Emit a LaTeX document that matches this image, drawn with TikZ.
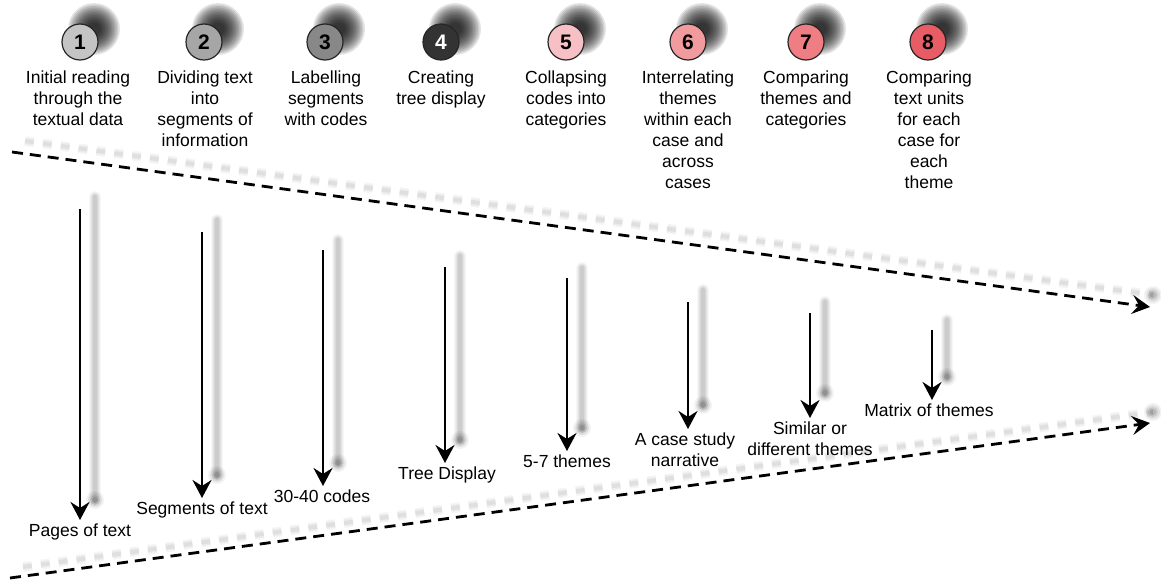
\documentclass[tikz,border=0pt]{standalone}
\usepackage{fontspec}
\setmainfont{Liberation Sans}
\usetikzlibrary{arrows.meta}

\definecolor{c1}{HTML}{C4C4C4}
\definecolor{c2}{HTML}{A6A6A6}
\definecolor{c3}{HTML}{888888}
\definecolor{c4}{HTML}{333333}
\definecolor{c5}{HTML}{F6C0C4}
\definecolor{c6}{HTML}{F29B9F}
\definecolor{c7}{HTML}{EE7E83}
\definecolor{c8}{HTML}{E85C66}

\tikzset{
  num/.style={circle, draw=black!85, line width=1.2pt, minimum size=36pt, inner sep=0pt,
    font=\fontsize{21}{21}\selectfont\bfseries},
  lab/.style={anchor=north, inner sep=0pt, align=center, font=\fontsize{17.5}{21}\selectfont},
  varrow/.style={line width=2.5pt, -{Stealth[length=18pt,width=19pt,inset=6pt]}, shorten >=4pt},
  funnel/.style={line width=2.8pt, dash pattern=on 11pt off 7pt, -{Stealth[length=18pt,width=19pt,inset=7pt]}},
}

\newcommand\mysoftline[2]{%
  \foreach \w/\o in {12/0.03,10/0.04,8/0.04,6/0.05,4/0.05}{\draw[line width=\w pt, black, opacity=\o, line cap=round] #1 -- #2;}%
  \foreach \r/\o in {9/0.05,7/0.07,5/0.09,3/0.1}{\fill[black, opacity=\o] #2 circle (\r pt);}}
\newcommand\mysoftdash[2]{%
  \foreach \w/\o in {10/0.035,7/0.04,4/0.05}{\draw[line width=\w pt, black, opacity=\o, dash pattern=on 9pt off 9pt] #1 -- #2;}%
  \foreach \r/\o in {9/0.05,7/0.07,5/0.09,3/0.1}{\fill[black, opacity=\o] #2 circle (\r pt);}}
\newcommand\myblob[1]{%
  \foreach \r in {26,24.5,...,6}{\fill[black, opacity=0.1] #1 circle (\r pt);}}

\begin{document}
\begin{tikzpicture}[x=1pt, y=-1pt]
\useasboundingbox[fill=white] (0,0) rectangle (1161,581);

% circle shadows
\foreach \x in {80,204,325,441,566,688,806,928}{\myblob{(\x+14,29)}}

% step circles
\node[num, fill=c1] (n1) at (80,42) {1};
\node[num, fill=c2] (n2) at (204,42) {2};
\node[num, fill=c3] (n3) at (325,42) {3};
\node[num, fill=c4, text=white] (n4) at (441,42) {4};
\node[num, fill=c5] (n5) at (566,42) {5};
\node[num, fill=c6] (n6) at (688,42) {6};
\node[num, fill=c7] (n7) at (806,42) {7};
\node[num, fill=c8] (n8) at (928,42) {8};

% step descriptions
\node[lab] (d1) at (78,71) {Initial reading\\through the\\textual data};
\node[lab] (d2) at (205,71) {Dividing text\\into\\segments of\\information};
\node[lab] (d3) at (326,71) {Labelling\\segments\\with codes};
\node[lab] (d4) at (441,71) {Creating\\tree display};
\node[lab] (d5) at (566,71) {Collapsing\\codes into\\categories};
\node[lab] (d6) at (688,71) {Interrelating\\themes\\within each\\case and\\across\\cases};
\node[lab] (d7) at (806,71) {Comparing\\themes and\\categories};
\node[lab] (d8) at (929,71) {Comparing\\text units\\for each\\case for\\each\\theme};

% funnel lines
\coordinate (fa) at (12,152);
\coordinate (fb) at (1150,307);
\coordinate (fc) at (10,578);
\coordinate (fd) at (1150,423);
\mysoftdash{(25,141)}{(1153,295)}
\mysoftdash{(23,567)}{(1153,412)}
\draw[funnel] (fa) -- (fb);
\draw[funnel] (fc) -- (fd);

% result labels
\node[lab] (r1) at (80,524) {Pages of text};
\node[lab] (r2) at (202,502) {Segments of text};
\node[lab] (r3) at (322,490) {30-40 codes};
\node[lab] (r4) at (447,467) {Tree Display};
\node[lab] (r5) at (567,455) {5-7 themes};
\node[lab] (r6) at (685,433) {A case study\\narrative};
\node[lab] (r7) at (810,422) {Similar or\\different themes};
\node[lab] (r8) at (929,404) {Matrix of themes};

% arrow tops
\coordinate (t1) at (80,209);
\coordinate (t2) at (202,232);
\coordinate (t3) at (323,250);
\coordinate (t4) at (445,267);
\coordinate (t5) at (567,278);
\coordinate (t6) at (688,302);
\coordinate (t7) at (810,313);
\coordinate (t8) at (932,330);

% arrow shadows
\mysoftline{(95,197)}{(95,500)}
\mysoftline{(217,220)}{(217,475)}
\mysoftline{(338,240)}{(338,463)}
\mysoftline{(460,256)}{(460,440)}
\mysoftline{(582,268)}{(582,428)}
\mysoftline{(703,290)}{(703,405)}
\mysoftline{(825,302)}{(825,393)}
\mysoftline{(947,320)}{(947,377)}

% arrows
\foreach \i in {1,...,8}{\draw[varrow] (t\i) -- (t\i |- r\i.north);}
\end{tikzpicture}
\end{document}
